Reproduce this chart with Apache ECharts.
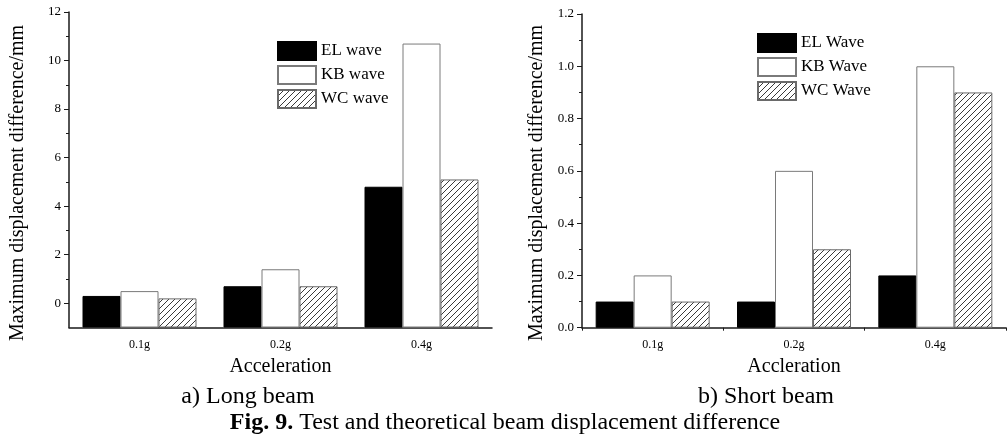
<!DOCTYPE html>
<html>
<head>
<meta charset="utf-8">
<script src="https://cdn.jsdelivr.net/npm/echarts@6/dist/echarts.min.js"></script>
<style>
  html, body { margin: 0; padding: 0; background: #fff; }
  #chart { width: 1008px; height: 439px; }
</style>
</head>
<body>
<div id="chart"></div>
<script>
// Categories and measured displacement differences (mm)
const accel = ['0.1g', '0.2g', '0.4g'];

const longEL = [0.3, 0.7, 4.8];
const longKB = [0.5, 1.4, 10.7];
const longWC = [0.2, 0.7, 5.1];

const shortEL = [0.1, 0.1, 0.2];
const shortKB = [0.2, 0.6, 1.0];
const shortWC = [0.1, 0.3, 0.9];

// Tick values for the two value axes
const longMajor = [0, 2, 4, 6, 8, 10, 12];
const longMinor = [1, 3, 5, 7, 9, 11];
const shortMajor = [0, 0.2, 0.4, 0.6, 0.8, 1.0, 1.2];
const shortMinor = [0.1, 0.3, 0.5, 0.7, 0.9, 1.1];

const longNames = ['EL wave', 'KB wave', 'WC wave'];
const shortNames = ['EL Wave', 'KB Wave', 'WC Wave'];

const FONT = '"Liberation Serif", "Times New Roman", serif';
const AXIS_COLOR = '#1a1a1a';

// Diagonal hatch tile
function hatchPattern() {
  const c = document.createElement('canvas');
  const s = 6;
  c.width = s; c.height = s;
  const ctx = c.getContext('2d');
  ctx.fillStyle = '#ffffff';
  ctx.fillRect(0, 0, s, s);
  ctx.strokeStyle = '#3a3a3a';
  ctx.lineWidth = 1;
  ctx.beginPath();
  ctx.moveTo(-1, s + 1); ctx.lineTo(s + 1, -1);
  ctx.moveTo(-1, 1); ctx.lineTo(1, -1);
  ctx.moveTo(s - 1, s + 1); ctx.lineTo(s + 1, s - 1);
  ctx.stroke();
  return { image: c, repeat: 'repeat' };
}
const hatch = hatchPattern();

const styles = [
  { color: '#000000', borderColor: '#000000', borderWidth: 1 },
  { color: '#ffffff', borderColor: '#7a7a7a', borderWidth: 1 },
  { color: hatch, borderColor: '#6a6a6a', borderWidth: 1 }
];

// Bars rise from the bottom of the value axis: an invisible floor segment
// at the axis minimum is stacked under each visible series.
function barSeries(gridIdx, names, valueSets, floor) {
  const out = [];
  valueSets.forEach((vals, k) => {
    const stack = 'g' + gridIdx + '_' + k;
    out.push({
      type: 'bar', name: 'floor' + gridIdx + k, stack, stackStrategy: 'all',
      xAxisIndex: gridIdx * 2, yAxisIndex: gridIdx * 2,
      barWidth: 38, barGap: '0%',
      data: vals.map(() => floor),
      itemStyle: { color: 'rgba(0,0,0,0)', borderWidth: 0 },
      silent: true, emphasis: { disabled: true }, tooltip: { show: false }
    });
    out.push({
      type: 'bar', name: names[k], stack, stackStrategy: 'all',
      xAxisIndex: gridIdx * 2, yAxisIndex: gridIdx * 2,
      barWidth: 38, barGap: '0%',
      data: vals.map(v => +(v - floor).toFixed(6)),
      itemStyle: styles[k],
      emphasis: { disabled: true }
    });
  });
  return out;
}

function catAxes(gridIdx, name, boundaryTicks) {
  return [
    {
      type: 'category', gridIndex: gridIdx, data: accel, position: 'bottom',
      axisLine: { onZero: false, lineStyle: { color: AXIS_COLOR, width: 1.5 } },
      axisTick: { alignWithLabel: true, length: 4, lineStyle: { color: AXIS_COLOR } },
      axisLabel: { fontFamily: FONT, fontSize: 12, color: '#000', margin: 11 },
      name, nameLocation: 'middle', nameGap: 29,
      nameTextStyle: { fontFamily: FONT, fontSize: 20, color: '#000' }
    },
    {
      type: 'category', gridIndex: gridIdx, data: accel, position: 'bottom',
      axisLine: { show: false, onZero: false },
      axisTick: { show: boundaryTicks, alignWithLabel: false, length: 3, lineStyle: { color: AXIS_COLOR } },
      axisLabel: { show: false }
    }
  ];
}

function valAxes(gridIdx, min, max, step, major, minor, fmt) {
  return [
    {
      type: 'value', gridIndex: gridIdx, min, max, interval: step, position: 'left',
      splitLine: { show: false },
      axisLine: { show: true, onZero: false, lineStyle: { color: AXIS_COLOR, width: 1.5 } },
      axisTick: { show: true, length: 5, customValues: major, lineStyle: { color: AXIS_COLOR } },
      axisLabel: { customValues: major, formatter: fmt, fontFamily: FONT, fontSize: 13, color: '#000', margin: 8 }
    },
    {
      type: 'value', gridIndex: gridIdx, min, max, interval: step, position: 'left',
      splitLine: { show: false },
      axisLine: { show: false, onZero: false },
      axisTick: { show: true, length: 3, customValues: minor, lineStyle: { color: AXIS_COLOR } },
      axisLabel: { show: false }
    }
  ];
}

const legendBase = {
  orient: 'vertical', itemWidth: 38, itemHeight: 18, itemGap: 4,
  icon: 'rect', selectedMode: false,
  textStyle: { fontFamily: FONT, fontSize: 17, color: '#000', lineHeight: 18, padding: [0, 0, 0, 0] }
};

const yNameStyle = { fontFamily: FONT, fontSize: 20, fill: '#000' };
const capStyle = { fontFamily: FONT, fontSize: 24, fill: '#000' };

const option = {
  animation: false,
  backgroundColor: '#ffffff',
  grid: [
    { left: 69, top: 12, width: 423, height: 315.5 },
    { left: 582, top: 14, width: 424, height: 313.7 }
  ],
  xAxis: [...catAxes(0, 'Acceleration', false), ...catAxes(1, 'Accleration', true)],
  yAxis: [
    ...valAxes(0, -1, 12, 1, longMajor, longMinor, v => String(v)),
    ...valAxes(1, 0, 1.2, 0.1, shortMajor, shortMinor, v => v.toFixed(1))
  ],
  legend: [
    Object.assign({}, legendBase, { left: 272, top: 36, data: longNames }),
    Object.assign({}, legendBase, { left: 752, top: 28, data: shortNames })
  ],
  series: [
    ...barSeries(0, longNames, [longEL, longKB, longWC], -1),
    ...barSeries(1, shortNames, [shortEL, shortKB, shortWC], 0)
  ],
  graphic: [
    { type: 'text', x: 18, y: 183, rotation: Math.PI / 2,
      style: Object.assign({ text: 'Maximum displacement difference/mm', align: 'center', verticalAlign: 'middle' }, yNameStyle) },
    { type: 'text', x: 537, y: 183, rotation: Math.PI / 2,
      style: Object.assign({ text: 'Maximum displacement difference/mm', align: 'center', verticalAlign: 'middle' }, yNameStyle) },
    { type: 'text', x: 248, y: 397,
      style: Object.assign({ text: 'a) Long beam', align: 'center', verticalAlign: 'middle' }, capStyle) },
    { type: 'text', x: 766, y: 397,
      style: Object.assign({ text: 'b) Short beam', align: 'center', verticalAlign: 'middle' }, capStyle) },
    { type: 'text', x: 505, y: 423,
      style: {
        text: '{b|Fig. 9.} Test and theoretical beam displacement difference',
        align: 'center', verticalAlign: 'middle',
        fontFamily: FONT, fontSize: 24, fill: '#000',
        rich: { b: { fontFamily: FONT, fontSize: 24, fontWeight: 'bold', fill: '#000' } }
      } }
  ]
};

const chart = echarts.init(document.getElementById('chart'), null, { renderer: 'canvas' });
chart.setOption(option);
</script>
</body>
</html>
